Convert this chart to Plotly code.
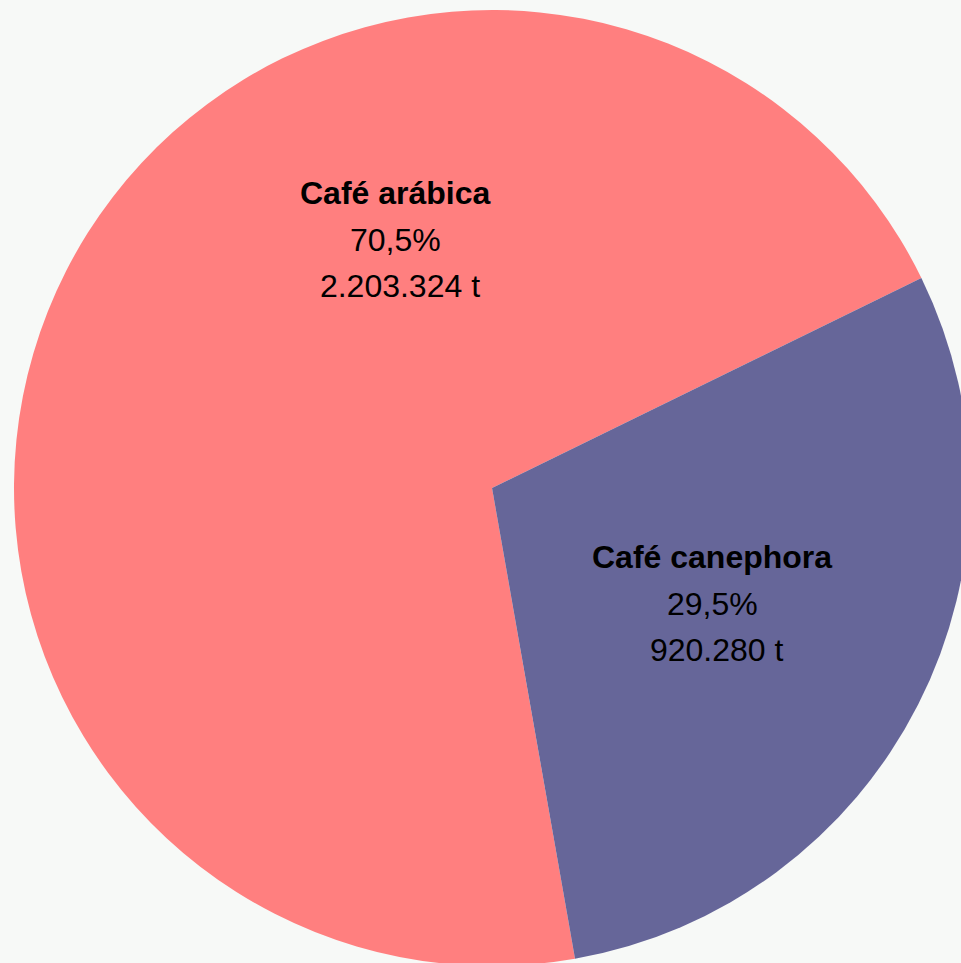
import plotly.graph_objects as go

# producao de cafe por especie (toneladas)
especies = ["Café arábica", "Café canephora"]
toneladas = [2203324, 920280]
cores = ["#ff7f7f", "#666699"]

total = sum(toneladas)
pcts = [v / total * 100 for v in toneladas]


def fmt_pt(n):
    return f"{n:,}".replace(",", ".")


W, H = 984, 976

fig = go.Figure()
fig.add_trace(go.Pie(
    labels=especies,
    values=toneladas,
    marker=dict(colors=cores, line=dict(width=0)),
    sort=False,
    direction="clockwise",
    rotation=170,
    textinfo="none",
    hoverinfo="label+value+percent",
    showlegend=False,
    domain=dict(x=[14 / W, 970 / W], y=[10 / H, 966 / H]),
))

# rotulos (nome em negrito, percentual, toneladas)
label_pos = [(395, 193), (712, 557)]  # centro do bloco de texto, px
anns = []
for nome, pct, t, (cx, cy) in zip(especies, pcts, toneladas, label_pos):
    linhas = [f"<b>{nome}</b>", f"{pct:.1f}%".replace(".", ","), f" {fmt_pt(t)} t"]
    for i, txt in enumerate(linhas):
        anns.append(dict(
            x=cx / W, y=1 - (cy + i * 46.5) / H, xref="paper", yref="paper",
            text=txt, showarrow=False, xanchor="center", yanchor="middle",
            font=dict(family="Liberation Sans, Arial", size=32, color="#000000"),
        ))

fig.update_layout(
    width=W, height=H,
    margin=dict(l=0, r=0, t=0, b=0),
    paper_bgcolor="#f7f9f7",
    plot_bgcolor="#f7f9f7",
    annotations=anns,
)

fig.write_html(
    "out.html",
    config={"displayModeBar": False},
    post_script="document.body.style.margin='0';document.body.style.overflow='hidden';"
                "document.documentElement.style.overflow='hidden';",
)
